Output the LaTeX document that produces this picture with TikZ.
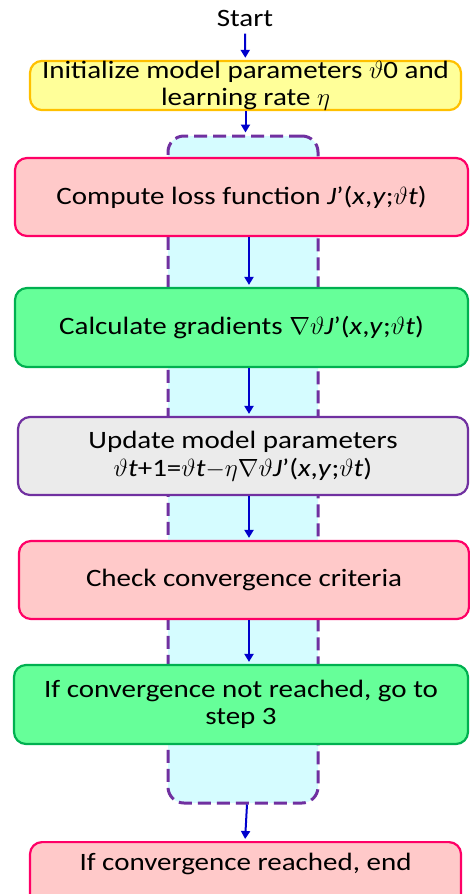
\documentclass[tikz,border=0pt]{standalone}
\usepackage{fontspec}
\setmainfont{Carlito}[FakeStretch=1.16]
\usetikzlibrary{arrows.meta}

\definecolor{loopfill}{HTML}{D5FCFF}
\definecolor{loopline}{HTML}{7030A0}
\definecolor{flowblue}{HTML}{0000CC}
\definecolor{initfill}{HTML}{FFFF99}
\definecolor{initline}{HTML}{FFC000}
\definecolor{pinkfill}{HTML}{FFC9C9}
\definecolor{pinkline}{HTML}{FF0066}
\definecolor{greenfill}{HTML}{66FF99}
\definecolor{greenline}{HTML}{00B050}
\definecolor{grayfill}{HTML}{EBEBEB}

% theta and the loss J'(x,y;theta t)
\newcommand{\thv}{$\vartheta$}
\newcommand{\lossJ}{\textit{J}’(\textit{x},\textit{y};\thv\textit{t})}

\begin{document}
\begin{tikzpicture}[x=1pt,y=1pt,
    box/.style={draw,rounded corners=12pt,line width=2.2pt,align=center,inner sep=0pt,
        font=\fontsize{25}{27}\selectfont},
    pinkbox/.style={box,draw=pinkline,fill=pinkfill},
    greenbox/.style={box,draw=greenline,fill=greenfill},
    flow/.style={draw=flowblue,line width=2pt,shorten >=2pt,-{Triangle[length=8pt,width=9pt]}}]
    \useasboundingbox (0,0) rectangle (470,-894);

    % dashed band behind the loop
    \node[draw=loopline,fill=loopfill,line width=3pt,dash pattern=on 13pt off 6pt,
        rounded corners=16pt,minimum width=150pt,minimum height=667pt] (loop) at (243,-469.5) {};
    \coordinate (axis) at (249,0);

    \node[font=\fontsize{25}{27}\selectfont,outer sep=4pt] (start) at (245,-18) {Start};
    \node[box,draw=initline,fill=initfill,minimum width=431pt,minimum height=47pt] (init) at (245.5,-85.5)
        {Initialize model parameters \thv0 and\\learning rate $\eta$};

    \node[pinkbox,minimum width=453pt,minimum height=78pt] (loss) at (241.5,-197)
        {Compute loss function \lossJ};
    \node[greenbox,minimum width=453pt,minimum height=79pt] (grad) at (241.5,-327.5)
        {Calculate gradients $\nabla$\thv\lossJ};
    \node[box,draw=loopline,fill=grayfill,minimum width=450pt,minimum height=78pt,
        font=\fontsize{25}{28}\selectfont] (update) at (243,-456)
        {Update model parameters\\\thv\textit{t}+1=\thv\textit{t}$-\eta\nabla$\thv\lossJ};
    \node[pinkbox,minimum width=450pt,minimum height=78pt] (check) at (244,-580)
        {Check convergence criteria};
    \node[greenbox,minimum width=454pt,minimum height=79pt] (again) at (241,-704.5)
        {If convergence not reached, go to\\step 3};
    \node[pinkbox,anchor=north,minimum width=431pt,text height=28pt,text depth=40pt] (stop) at (245.5,-841)
        {If convergence reached, end};

    \draw[flow] (start) -- (init);
    \draw[flow] (init) -- (init |- loop.north);
    \draw[flow] (loss.south -| axis) -- (grad.north -| axis);
    \draw[flow] (grad.south -| axis) -- (update.north -| axis);
    \draw[flow] (update.south -| axis) -- (check.north -| axis);
    \draw[flow] (check.south -| axis) -- (again.north -| axis);
    \draw[flow] ([xshift=4pt]loop.south) -- ([xshift=2pt]loop.south |- stop.north);
\end{tikzpicture}
\end{document}
